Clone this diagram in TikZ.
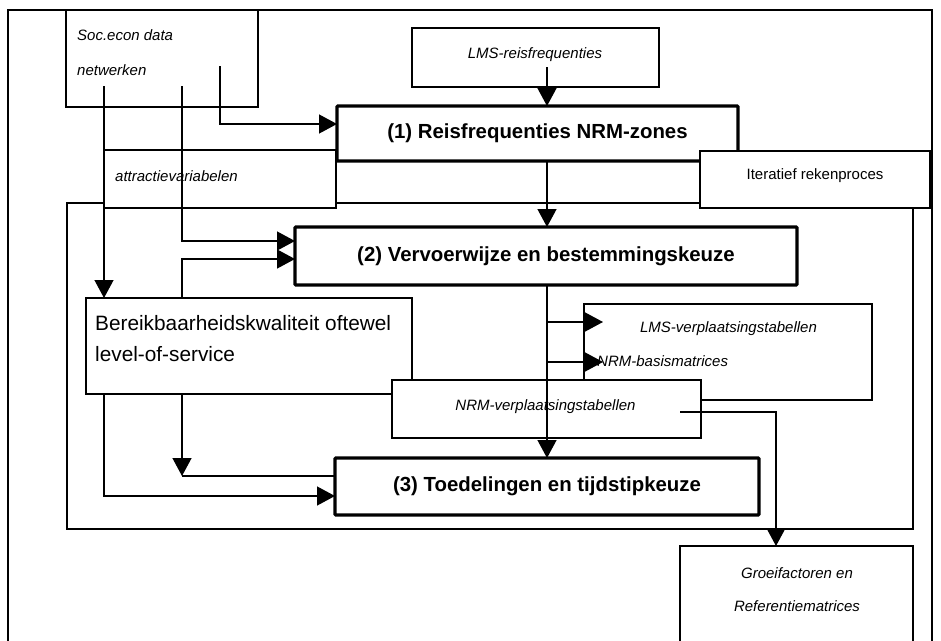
\documentclass[tikz,border=0pt]{standalone}
\usepackage{fontspec}
\setmainfont{Liberation Sans}
\usetikzlibrary{arrows.meta,calc}
\begin{document}
\begin{tikzpicture}[x=1pt,y=-1pt,
  plainbox/.style={draw, line width=1.3pt, fill=white, inner sep=0pt, outer sep=0pt},
  heavybox/.style={draw, line width=3.3pt, fill=white, inner sep=0pt, outer sep=0pt, rounded corners=1pt},
  conn/.style={line width=1.3pt},
  arr/.style={conn, -{Triangle[length=18pt,width=19pt]}},
  ital/.style={font=\fontsize{15}{18}\selectfont\itshape, inner sep=0pt},
  reglbl/.style={font=\fontsize{15}{18}\selectfont, inner sep=0pt},
  biglbl/.style={font=\fontsize{20.8}{24}\selectfont, inner sep=0pt},
  boldlbl/.style={font=\fontsize{20.4}{24}\selectfont\bfseries, inner sep=0pt},
]
\useasboundingbox (0,0) rectangle (941,640);
\clip (0,0) rectangle (941,640);
\fill[white] (0,0) rectangle (941,640);

% frames
\draw[conn] (8,10) rectangle (932,700);
\draw[conn] (67,203) rectangle (913,529);

% boxes
\node[plainbox, minimum width=192pt, minimum height=97pt] (soc) at (162,58.5) {};
\node[ital, anchor=west] (soct1) at (77,35) {Soc.econ data};
\node[ital, anchor=west] (soct2) at (77,70) {netwerken};

\node[plainbox, minimum width=247pt, minimum height=59pt] (lmsr) at (535.5,57.5) {};
\node[ital] (lmsrt) at (535,55) {LMS-reisfrequenties};

\node[heavybox, minimum width=401pt, minimum height=55pt, boldlbl] (n1) at (537.5,133.5) {(1) Reisfrequenties NRM-zones};

\node[plainbox, minimum width=232pt, minimum height=58pt] (attr) at (220,179) {};
\node[ital, anchor=west] (attrt) at (115,176) {attractievariabelen};

\node[plainbox, minimum width=230pt, minimum height=57pt] (iter) at (815,179.5) {};
\node[reglbl] (itert) at (815,176) {Iteratief rekenproces};

\node[heavybox, minimum width=502pt, minimum height=58pt, boldlbl] (n2) at (546,256) {(2) Vervoerwijze en bestemmingskeuze};

\node[plainbox, minimum width=326pt, minimum height=96pt] (bereik) at (249,346) {};
\node[biglbl, anchor=west] (bert1) at (95,323) {Bereikbaarheidskwaliteit oftewel};
\node[biglbl, anchor=west] (bert2) at (95,354) {level-of-service};

\node[plainbox, minimum width=288pt, minimum height=96pt] (lmsv) at (728,352) {};
\node[ital] (lmsvt) at (728.5,329) {LMS-verplaatsingstabellen};
\node[ital, anchor=west] (nrmbt) at (597,361) {NRM-basismatrices};

\node[plainbox, minimum width=309pt, minimum height=58pt] (nrmv) at (546.5,409) {};
\node[ital] (nrmvt) at (545.5,407) {NRM-verplaatsingstabellen};

\node[heavybox, minimum width=424pt, minimum height=57pt, boldlbl] (n3) at (547,486.5) {(3) Toedelingen en tijdstipkeuze};

\node[plainbox, minimum width=233pt, minimum height=154pt] (groei) at (796.5,623) {};
\node[ital] (groeit1) at (797,573) {Groeifactoren en};
\node[ital] (groeit2) at (797,606) {Referentiematrices};

% connectors
\coordinate (s104) at (104,86);
\coordinate (s182) at (182,86);
\coordinate (s220) at (220,66);
\coordinate (l547) at (547,67);
\draw[arr] (s104) -- (s104 |- bereik.north);
\draw[arr] (s182) |- (n2.west |- 0,241);
\draw[arr] (s220) |- (n1.west |- 0,124);
\draw[arr] (bereik.north -| 182,0) |- (n2.west |- 0,259);
\draw[arr] (l547) -- (l547 |- n1.north);
\draw[arr] (n1.south -| 547,0) -- (n2.north -| 547,0);
\draw[arr] (n2.south -| 547,0) -- (n3.north -| 547,0);
\coordinate (b1) at (547,322);
\coordinate (t1) at (603,322);
\coordinate (b2) at (547,362);
\coordinate (t2) at (603,362);
\draw[arr] (b1) -- (t1);
\draw[arr] (b2) -- (t2);
\draw[arr] (bereik.south -| 104,0) |- (n3.west |- 0,496);
\coordinate (k) at (182,476);
\draw[arr] (bereik.south -| 182,0) -- (k);
\draw[conn] (k) -- (n3.west |- k);
\coordinate (g0) at (680,412);
\draw[arr] (g0) -| (groei.north -| 776,0);
\end{tikzpicture}
\end{document}
